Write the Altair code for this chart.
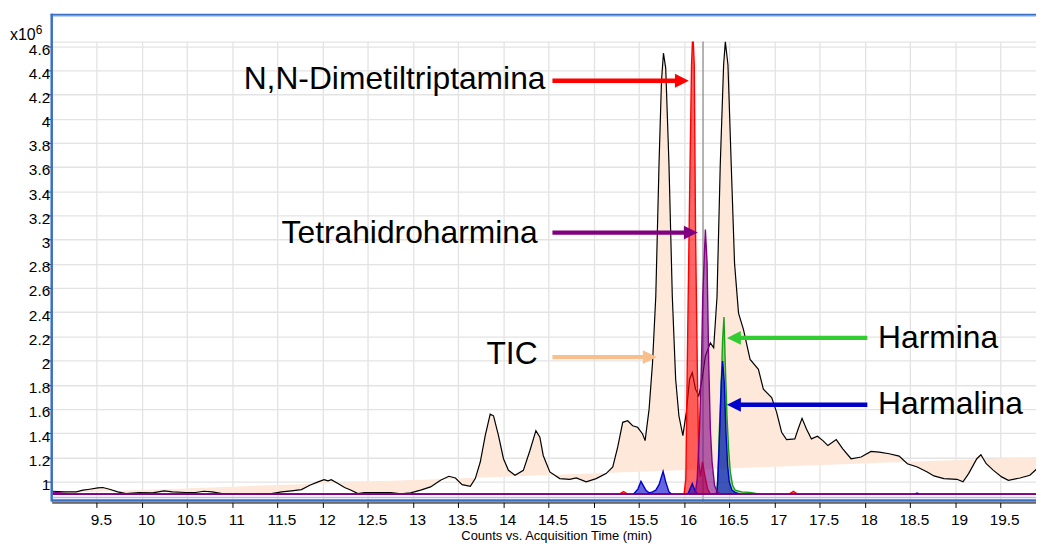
import altair as alt
import numpy as np
import pandas as pd

# ---------------- data (time in min, counts in x10^6) ----------------
tic_t = [9.0, 9.145, 9.273, 9.346, 9.42, 9.511, 9.566, 9.64, 9.731, 9.823, 9.969, 10.116,
         10.244, 10.336, 10.483, 10.593, 10.684, 10.775, 10.885, 11.069, 11.253, 11.435,
         11.545, 11.655, 11.765, 11.857, 11.949, 12.015, 12.059, 12.095, 12.169, 12.242,
         12.315, 12.389, 12.462, 12.608, 12.755, 12.864, 12.974, 13.084, 13.194, 13.304,
         13.397, 13.469, 13.543, 13.634, 13.689, 13.744, 13.799, 13.854, 13.891, 13.946,
         14.001, 14.056, 14.129, 14.221, 14.294, 14.36, 14.404, 14.441, 14.514, 14.624,
         14.734, 14.807, 14.917, 15.027, 15.137, 15.211, 15.266, 15.321, 15.376, 15.431,
         15.486, 15.541, 15.569, 15.613, 15.651, 15.687, 15.723, 15.75, 15.772, 15.797,
         15.833, 15.87, 15.907, 15.943, 15.987, 16.025, 16.061, 16.091, 16.127, 16.163,
         16.2, 16.236, 16.291, 16.328, 16.365, 16.401, 16.438, 16.457, 16.486, 16.522,
         16.559, 16.603, 16.658, 16.731, 16.823, 16.878, 16.97, 17.025, 17.08, 17.135,
         17.226, 17.263, 17.306, 17.355, 17.41, 17.476, 17.537, 17.592, 17.685, 17.757,
         17.849, 17.96, 18.07, 18.161, 18.271, 18.381, 18.472, 18.582, 18.692, 18.766,
         18.876, 19.021, 19.088, 19.15, 19.241, 19.286, 19.345, 19.425, 19.516, 19.59,
         19.719, 19.828, 19.908]
tic_v = [0.92, 0.915, 0.915, 0.929, 0.937, 0.948, 0.951, 0.937, 0.915, 0.901, 0.91, 0.907,
         0.924, 0.915, 0.91, 0.91, 0.92, 0.915, 0.901, 0.896, 0.896, 0.901,
         0.915, 0.924, 0.934, 0.97, 0.998, 1.016, 1.006, 1.016, 0.984, 0.951,
         0.929, 0.901, 0.91, 0.91, 0.91, 0.899, 0.907, 0.929, 0.956, 1.011,
         1.044, 1.03, 0.975, 0.961, 1.025, 1.162, 1.38, 1.558, 1.544, 1.38,
         1.189, 1.093, 1.052, 1.093, 1.257, 1.421, 1.367, 1.216, 1.08, 1.025,
         1.019, 1.03, 0.998, 1.025, 1.066, 1.121, 1.287, 1.49, 1.503, 1.462,
         1.449, 1.394, 1.339, 1.599, 1.983, 2.53, 3.625, 4.309, 4.541, 4.418,
         3.625, 2.53, 1.846, 1.544, 1.38, 1.572, 1.846, 1.901, 1.764, 1.709,
         1.846, 2.037, 2.147, 2.106, 2.53, 3.625, 4.446, 4.637, 4.446, 3.625,
         2.804, 2.393, 2.256, 2.01, 1.928, 1.764, 1.695, 1.572, 1.408, 1.347,
         1.353, 1.435, 1.523, 1.435, 1.353, 1.375, 1.339, 1.298, 1.347, 1.271,
         1.189, 1.203, 1.249, 1.244, 1.23, 1.211, 1.148, 1.121, 1.08, 1.047,
         1.025, 1.019, 0.998, 1.066, 1.189, 1.222, 1.148, 1.093, 1.039, 1.011,
         1.03, 1.052, 1.107]
# straight reference line that bounds the TIC fill
base_t = [9.0, 19.91]
base_v = [0.903, 1.203]

eic_base = 0.895

dmt_t = [9.0, 15.28, 15.33, 15.38, 16.0, 16.02, 16.036, 16.061, 16.083, 16.097, 16.113,
         16.127, 16.146, 16.163, 16.182, 16.204, 16.226, 16.259, 16.291, 17.16, 17.21,
         17.26, 19.91]
dmt_v = [0.895, 0.895, 0.918, 0.895, 0.895, 1.025, 1.983, 3.351, 4.448, 4.72, 4.448,
         3.077, 1.985, 1.164, 1.041, 1.164, 1.066, 0.943, 0.895, 0.895, 0.92,
         0.895, 0.895]

thh_t = [9.0, 9.12, 9.2, 16.11, 16.127, 16.146, 16.171, 16.193, 16.207, 16.236, 16.255,
         16.273, 16.291, 16.31, 16.338, 16.365, 16.401, 19.91]
thh_v = [0.915, 0.905, 0.895, 0.895, 0.918, 1.025, 1.435, 1.985, 2.53, 3.083, 2.806,
         1.985, 1.435, 1.164, 0.967, 0.918, 0.895, 0.895]

harmina_t = [9.0, 16.352, 16.365, 16.376, 16.39, 16.412, 16.427, 16.442, 16.457, 16.475,
             16.493, 16.512, 16.537, 16.566, 16.64, 16.731, 16.84, 19.91]
harmina_v = [0.895, 0.895, 0.929, 1.082, 1.411, 1.821, 2.174, 2.36, 1.955, 1.544,
             1.271, 1.08, 0.97, 0.929, 0.915, 0.91, 0.895, 0.895]

harmalina_t = [9.0, 15.44, 15.49, 15.523, 15.577, 15.613, 15.651, 15.687, 15.723, 15.768,
               15.797, 15.833, 15.863, 16.04, 16.053, 16.091, 16.127, 16.16, 16.355,
               16.365, 16.372, 16.383, 16.401, 16.412, 16.427, 16.445, 16.464, 16.482,
               16.5, 16.53, 16.566, 16.62, 18.55, 18.58, 18.61, 19.91]
harmalina_v = [0.895, 0.895, 0.94, 1.002, 0.929, 0.907, 0.915, 0.929, 0.975, 1.085,
               0.998, 0.915, 0.895, 0.895, 0.915, 0.984, 0.915, 0.895, 0.895,
               0.918, 0.998, 1.189, 1.544, 1.819, 1.996, 1.819, 1.408, 1.134,
               0.998, 0.929, 0.91, 0.895, 0.895, 0.905, 0.895, 0.895]

cursor_t = [16.21]

x_ticks = [9.5, 10, 10.5, 11, 11.5, 12, 12.5, 13, 13.5, 14, 14.5, 15, 15.5, 16, 16.5,
           17, 17.5, 18, 18.5, 19, 19.5]
y_ticks = [1.0, 1.2, 1.4, 1.6, 1.8, 2.0, 2.2, 2.4, 2.6, 2.8, 3.0, 3.2, 3.4, 3.6, 3.8,
           4.0, 4.2, 4.4, 4.6]

# annotations
ann_text = ["N,N-Dimetiltriptamina", "Tetrahidroharmina", "TIC", "Harmina", "Harmalina"]
ann_color = ["#ff0000", "#800080", "#f8bf8c", "#33cc33", "#0000cc"]
ann_arrow_v = [4.314, 3.058, 2.029, 2.188, 1.635]
ann_tail_t = [14.543, 14.543, 14.543, 18.029, 18.029]
ann_tip_t = [16.053, 16.152, 15.698, 16.475, 16.475]
ann_label_t = [14.466, 14.379, 14.379, 18.148, 18.148]
ann_label_v = [4.325, 3.053, 2.051, 2.190, 1.640]

# ---------------- chart ----------------
FONT = "Liberation Sans"
X_DOM = [9.0, 19.896]
Y_DOM = [0.8276, 4.637]
W, H = 991, 464
PX_PER_MIN = W / (X_DOM[1] - X_DOM[0])

xs = alt.Scale(domain=X_DOM, nice=False, zero=False)
ys = alt.Scale(domain=Y_DOM, nice=False, zero=False)

x_axis = alt.Axis(values=x_ticks, format="~g", grid=True, gridColor="#e3e3e3",
                  gridWidth=1.3, tickColor="black", tickSize=5, domainColor="black",
                  domainWidth=1, labelFontSize=15.5, labelColor="black", labelPadding=5,
                  labelOffset=4, labelOverlap=False, labelFont=FONT,
                  title="Counts vs. Acquisition Time (min)",
                  titleFont=FONT, titleFontSize=13, titleFontWeight="normal",
                  titleColor="black", titleX=508, titleY=37, titleBaseline="alphabetic",
                  titleAlign="center")
y_axis = alt.Axis(values=y_ticks, format="~g", grid=True, gridColor="#e3e3e3",
                  gridWidth=1.3, tickColor="#333333", tickSize=6, domain=False,
                  labelFontSize=15.5, labelColor="black", labelPadding=-4, labelFont=FONT,
                  labelOffset=3, labelOverlap=False, labelBound=False, title=None)


def X(field):
    return alt.X(field, scale=xs, axis=None)


def Y(field):
    return alt.Y(field, scale=ys, axis=None)


tic_df = pd.DataFrame({"t": tic_t, "v": tic_v})
tic_df["b"] = np.interp(tic_df["t"], base_t, base_v)

tic_area = alt.Chart(tic_df).mark_area(color="#fde8da", opacity=1, clip=True).encode(
    x=alt.X("t:Q", scale=xs, axis=x_axis),
    y=alt.Y("v:Q", scale=ys, axis=y_axis),
    y2="b:Q",
)
tic_line = alt.Chart(tic_df).mark_line(color="black", strokeWidth=1.2, clip=True).encode(
    x=X("t:Q"), y=Y("v:Q"))

cursor = alt.Chart(pd.DataFrame({"t": cursor_t})).mark_rule(
    color="#9a9a9a", strokeWidth=1.5).encode(x=X("t:Q"))


def eic(ts, vs, color, fill_op):
    df = pd.DataFrame({"t": ts, "v": vs})
    return alt.Chart(df).mark_area(fill=color, fillOpacity=fill_op, stroke=color,
                                   strokeWidth=1.4, clip=True).encode(
        x=X("t:Q"), y=Y("v:Q"), y2=alt.datum(eic_base))


red = eic(dmt_t, dmt_v, "#ff0000", 0.6)
green = eic(harmina_t, harmina_v, "#16a016", 0.45)
blue = eic(harmalina_t, harmalina_v, "#0000cc", 0.6)
purple = eic(thh_t, thh_v, "#800080", 0.6)

# arrows
head_px = 14
ann = pd.DataFrame({"text": ann_text, "color": ann_color, "v": ann_arrow_v,
                    "tail": ann_tail_t, "tip": ann_tip_t,
                    "lt": ann_label_t, "lv": ann_label_v})
ann["dir"] = np.sign(ann["tip"] - ann["tail"])
ann["hc"] = ann["tip"] - ann["dir"] * (head_px / 2) / PX_PER_MIN
ann["shape"] = np.where(ann["dir"] > 0, "M-1,-1L1,0L-1,1Z", "M1,-1L-1,0L1,1Z")

shafts = alt.Chart(ann).mark_rule(strokeWidth=4.5).encode(
    x=X("tail:Q"), x2="hc:Q", y=Y("v:Q"),
    color=alt.Color("color:N", scale=None))
heads = alt.Chart(ann).mark_point(filled=True, opacity=1, size=head_px * head_px).encode(
    x=X("hc:Q"), y=Y("v:Q"),
    color=alt.Color("color:N", scale=None), shape=alt.Shape("shape:N", scale=None))

labels_r = alt.Chart(ann[ann["dir"] > 0]).mark_text(
    align="right", baseline="middle", fontSize=32, font=FONT, color="black").encode(
    x=X("lt:Q"), y=Y("lv:Q"), text="text:N")
labels_l = alt.Chart(ann[ann["dir"] < 0]).mark_text(
    align="left", baseline="middle", fontSize=32, font=FONT, color="black").encode(
    x=X("lt:Q"), y=Y("lv:Q"), text="text:N")

# decorative frame (blue) and exponent label
one = pd.DataFrame({"k": [0]})
frame_dark = "#3a6fc6"
frame_light = "#a8c2ec"
f_top = alt.Chart(one).mark_rule(color=frame_dark, strokeWidth=2).encode(
    x=alt.value(-1), x2=alt.value(W + 5), y=alt.value(-27))
f_top2 = alt.Chart(one).mark_rule(color=frame_light, strokeWidth=1).encode(
    x=alt.value(1), x2=alt.value(W + 5), y=alt.value(-25.5))
f_left = alt.Chart(one).mark_rule(color=frame_dark, strokeWidth=2.5).encode(
    x=alt.value(0), y=alt.value(-28), y2=alt.value(463))
f_bot_light = alt.Chart(one).mark_rule(color=frame_light, strokeWidth=1.5).encode(
    x=alt.value(1), x2=alt.value(W + 5), y=alt.value(459))
f_bot = alt.Chart(one).mark_rule(color=frame_dark, strokeWidth=2.5).encode(
    x=alt.value(0), x2=alt.value(W + 5), y=alt.value(462))

exp_base = alt.Chart(one).mark_text(align="left", baseline="alphabetic", fontSize=16,
                                    font=FONT, color="black").encode(
    x=alt.value(-42), y=alt.value(-2), text=alt.value("x10"))
exp_sup = alt.Chart(one).mark_text(align="left", baseline="alphabetic", fontSize=12,
                                   font=FONT, color="black").encode(
    x=alt.value(-16), y=alt.value(-8), text=alt.value("6"))

chart = alt.layer(
    tic_area, cursor, tic_line, red, green, blue, purple,
    shafts, heads, labels_r, labels_l,
    f_top, f_top2, f_left, f_bot_light, f_bot, exp_base, exp_sup,
).resolve_axis(x="independent", y="independent").properties(
    width=W, height=H, autosize=alt.AutoSizeParams(type="none"),
    padding={"left": 44, "top": 32, "right": 0, "bottom": 40},
    background="white",
).configure_view(strokeWidth=0).configure(font=FONT).configure_axis(labelOverlap=False)

chart.save("out.html", embed_options={"renderer": "svg", "actions": False})
